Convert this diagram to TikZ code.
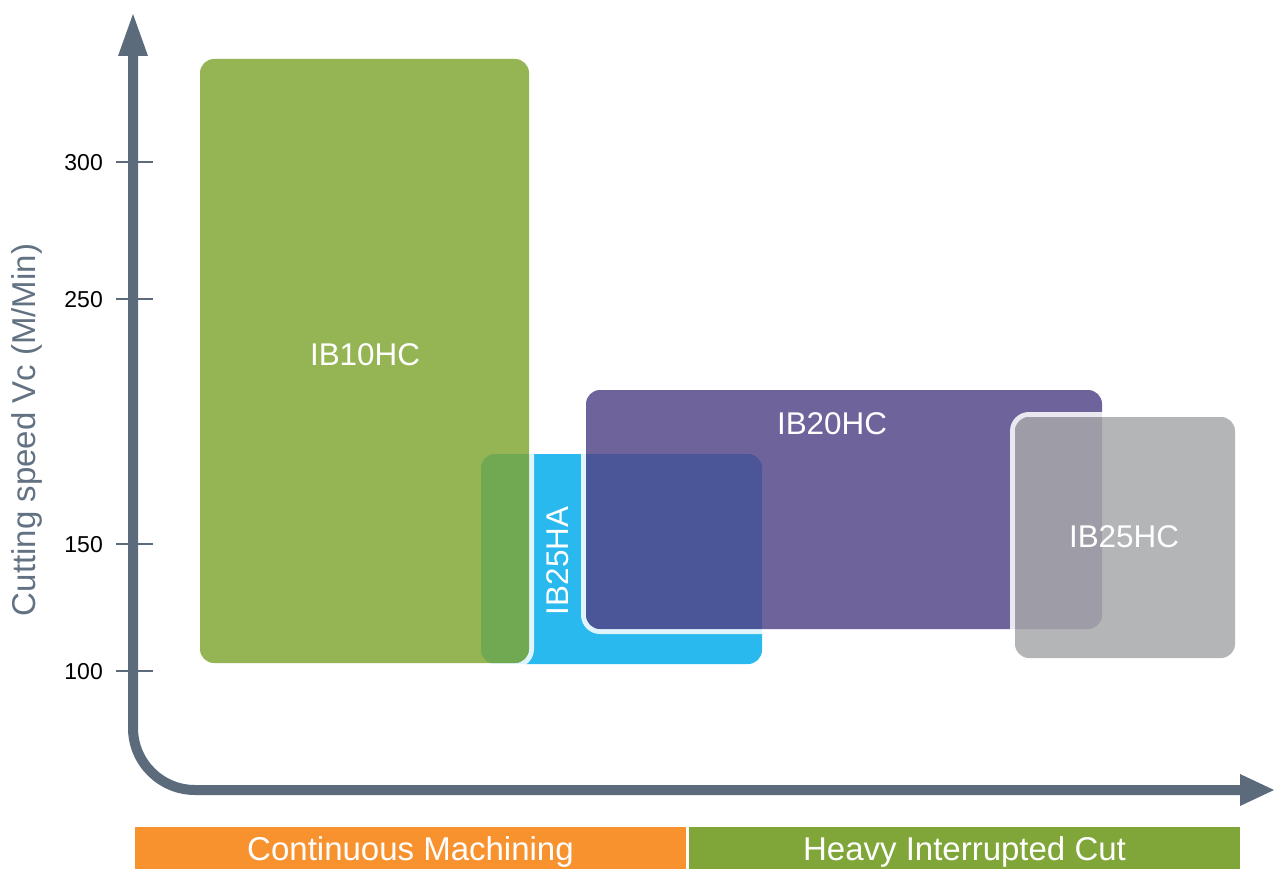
\documentclass[tikz,border=0pt]{standalone}
\usepackage{fontspec}
\setmainfont{Liberation Sans}
\definecolor{axiscol}{RGB}{91,107,124}
\definecolor{labcol}{RGB}{98,114,130}
\definecolor{gbox}{RGB}{128,166,51}
\definecolor{bbox}{RGB}{41,185,238}
\definecolor{pbox}{RGB}{82,67,136}
\definecolor{gybox}{RGB}{167,168,170}
\definecolor{orbar}{RGB}{247,146,47}
\definecolor{grbar}{RGB}{128,166,58}
\tikzset{
  ringfill/.style={fill=white, fill opacity=0.85, even odd rule},
  greenfill/.style={fill=gbox, fill opacity=0.83},
  bluefill/.style={fill=bbox},
  purplefill/.style={fill=pbox, fill opacity=0.83},
  grayfill/.style={fill=gybox, fill opacity=0.85},
  axisline/.style={draw=axiscol, line width=10pt},
  tickline/.style={draw=axiscol, line width=2pt},
  ticklab/.style={anchor=east, inner sep=0pt, text=black, font=\fontsize{23}{26}\selectfont, text height=16.5pt, text depth=0pt},
  boxlab/.style={inner sep=0pt, text=white, font=\fontsize{31.4}{34}\selectfont, text height=22.5pt, text depth=0pt},
  barlab/.style={anchor=base, inner sep=0pt, text=white, font=\fontsize{33}{36}\selectfont},
  axislab/.style={inner sep=0pt, text=labcol, rotate=90, font=\fontsize{33}{36}\selectfont, text height=23.6pt, text depth=0pt},
}
\newcommand\ringedbox[6]{%
  \fill[ringfill] [rounded corners=19pt] (#2-5,#3-5) rectangle (#4+5,#5+5)
        [rounded corners=14pt] (#2,#3) rectangle (#4,#5);
  \fill[#6, rounded corners=14pt] (#2,#3) rectangle (#4,#5);
  \coordinate (#1) at ({(#2+#4)/2},{(#3+#5)/2});
}
\begin{document}
\begin{tikzpicture}[x=1pt,y=-1pt]
\useasboundingbox (0,0) rectangle (1274,869);
% axes
\coordinate (ytop) at (133,14);
\coordinate (ybase) at (133,56);
\coordinate (corner) at (133,790);
\coordinate (xbase) at (1241,790);
\coordinate (xtip) at (1274,790);
\draw[axisline, rounded corners=62pt] (ybase) -- (corner) -- (xbase);
\fill[axiscol] (118,56) -- (148,56) -- (ytop) -- cycle;
\fill[axiscol] (1240,774) -- (1240,806) -- (xtip) -- cycle;
% ticks
\foreach \v/\yy in {300/162,250/299,150/544,100/671}{
  \coordinate (tl\v) at (116,\yy);
  \coordinate (tr\v) at (153,\yy);
  \draw[tickline] (tl\v) -- (tr\v);
  \node[ticklab] (lab\v) at (103,\yy) {\v};
}
\node[axislab] (ylabel) at (24,430) {Cutting speed Vc (M/Min)};
% boxes
\fill[bluefill, rounded corners=14pt] (481,454) rectangle (762,664);
\coordinate (ib25ha) at (621,559);
\ringedbox{ib10hc}{200}{59}{529}{663}{greenfill}
\ringedbox{ib20hc}{586}{390}{1102}{629}{purplefill}
\ringedbox{ib25hc}{1015}{417}{1235}{658}{grayfill}
% box labels
\node[boxlab] (t10) at (365,354) {IB10HC};
\node[boxlab] (t20) at (832,423) {IB20HC};
\node[boxlab] (t25c) at (1124,536) {IB25HC};
\node[boxlab, rotate=90] (t25a) at (557.5,561) {IB25HA};
% bottom bars
\fill[orbar] (135,827) rectangle (686,869);
\fill[grbar] (689,827) rectangle (1240,869);
\node[barlab] (cm) at (410.5,860) {Continuous Machining};
\node[barlab] (hic) at (964.5,860) {Heavy Interrupted Cut};
\end{tikzpicture}
\end{document}
